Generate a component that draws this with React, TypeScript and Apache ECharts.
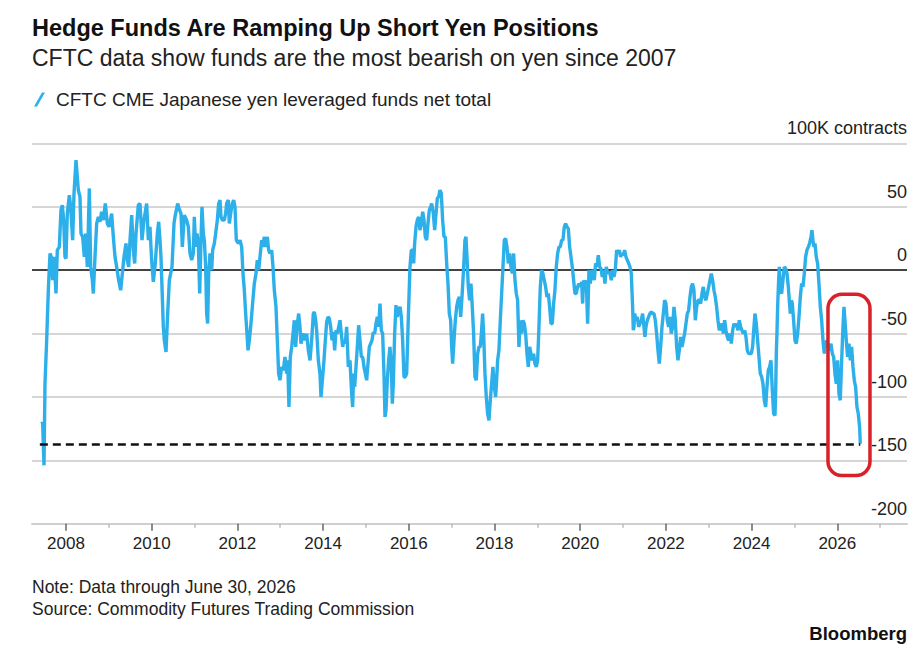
import React, { useEffect, useRef } from "react";
import * as echarts from "echarts";

// Weekly CFTC CME yen leveraged funds net total (thousand contracts), time as decimal year
const netPositions: [number, number][] = [
  [2007.417, -121.1], [2007.456, -120.5], [2007.487, -153.9], [2007.51, -89.5], [2007.549, -55.3],
  [2007.588, -15.8], [2007.627, 13.2], [2007.658, 10.5], [2007.689, -7.9], [2007.72, 10.5],
  [2007.767, -18.4], [2007.798, 15.8], [2007.845, 18.4], [2007.883, 47.4], [2007.915, 51.3],
  [2007.946, 39.5], [2007.977, 10.5], [2008.0, 9.2], [2008.031, 44.7], [2008.078, 59.2],
  [2008.109, 50], [2008.156, 23.7], [2008.187, 60.5], [2008.234, 86.8], [2008.288, 63.2],
  [2008.327, 57.9], [2008.35, 28.9], [2008.389, 26.3], [2008.428, 10.5], [2008.459, 28.9],
  [2008.498, 2.6], [2008.545, 64.5], [2008.576, 2.6], [2008.615, -7.9], [2008.638, -18.4],
  [2008.677, 10.5], [2008.716, 36.8], [2008.755, 42.1], [2008.794, 38.2], [2008.832, 46.1],
  [2008.871, 39.5], [2008.918, 52.6], [2008.965, 36.8], [2009.004, 34.2], [2009.066, 44.7],
  [2009.105, 26.3], [2009.144, 10.5], [2009.183, 2.6], [2009.229, -7.9], [2009.276, -15.8],
  [2009.315, -2.6], [2009.354, 10.5], [2009.4, 21.1], [2009.431, 7.9], [2009.463, 2.6],
  [2009.494, 23.7], [2009.533, 43.4], [2009.572, 15.8], [2009.603, 5.3], [2009.634, 28.9],
  [2009.688, 51.3], [2009.727, 52.6], [2009.774, 23.7], [2009.82, 39.5], [2009.883, 52.6],
  [2009.922, 23.7], [2009.96, 34.2], [2009.999, 7.9], [2010.038, -9.2], [2010.077, 2.6],
  [2010.132, 28.9], [2010.163, 38.2], [2010.194, 23.7], [2010.217, 10.5], [2010.272, -44.7],
  [2010.295, -55.3], [2010.334, -64.5], [2010.373, -34.2], [2010.412, -7.9], [2010.443, -2.6],
  [2010.474, 2.6], [2010.521, 36.8],
  [2010.544, 42.1], [2010.606, 52.6], [2010.637, 48.7], [2010.684, 44.7], [2010.715, 18.4],
  [2010.762, 43.4], [2010.816, 39.5], [2010.855, 34.2], [2010.894, 13.2], [2010.933, 7.9],
  [2010.972, 13.2], [2010.995, 42.1], [2011.026, 18.4], [2011.057, 28.9], [2011.089, 21.1],
  [2011.12, -18.4], [2011.151, 23.7], [2011.174, 50], [2011.205, 28.9], [2011.229, 23.7],
  [2011.26, 2.6], [2011.283, -34.2], [2011.306, -42.1], [2011.33, -2.6], [2011.361, 13.2],
  [2011.4, 0], [2011.423, 15.8], [2011.462, 21.1], [2011.493, 28.9], [2011.532, 39.5],
  [2011.563, 52.6], [2011.594, 55.3], [2011.617, 42.1], [2011.649, 39.5], [2011.695, 39.5],
  [2011.726, 44.7], [2011.75, 52.6], [2011.789, 55.3], [2011.812, 36.8], [2011.843, 44.7],
  [2011.882, 52.6], [2011.913, 55.3], [2011.944, 50], [2011.975, 23.7], [2012.022, 21.1],
  [2012.061, 23.7], [2012.1, 18.4], [2012.131, -2.6], [2012.162, -15.8], [2012.193, -34.2],
  [2012.224, -50], [2012.248, -63.2], [2012.279, -55.3], [2012.31, -44.7], [2012.349, -28.9],
  [2012.395, -10.5], [2012.434, -2.6], [2012.465, 7.9], [2012.497, 0], [2012.528, 10.5],
  [2012.567, 23.7], [2012.59, 18.4], [2012.629, 26.3], [2012.66, 18.4], [2012.699, 26.3],
  [2012.73, 15.8], [2012.761, 13.2], [2012.8, 15.8], [2012.831, 2.6], [2012.862, -15.8],
  [2012.901, -28.9], [2012.932, -55.3], [2012.963, -81.6], [2012.994, -86.8], [2013.033, -76.3],
  [2013.072, -78.9], [2013.111, -68.4], [2013.15, -81.6], [2013.173, -71.1], [2013.204, -107.9],
  [2013.235, -68.4], [2013.267, -60.5], [2013.298, -50], [2013.329, -39.5], [2013.36, -60.5],
  [2013.391, -44.7], [2013.43, -34.2], [2013.461, -44.7], [2013.484, -57.9], [2013.515, -52.6],
  [2013.547, -50], [2013.578, -55.3], [2013.617, -50], [2013.656, -63.2], [2013.695, -71.1],
  [2013.733, -55.3], [2013.772, -34.2], [2013.796, -32.9], [2013.827, -39.5], [2013.85, -47.4],
  [2013.889, -71.1],
  [2013.928, -81.6], [2013.951, -100], [2013.99, -84.2], [2014.021, -71.1], [2014.052, -55.3],
  [2014.084, -40.8], [2014.115, -36.8], [2014.146, -38.2], [2014.177, -44.7], [2014.208, -55.3],
  [2014.239, -48.7], [2014.27, -63.2], [2014.301, -47.4], [2014.332, -50], [2014.364, -44.7],
  [2014.395, -39.5], [2014.426, -50], [2014.457, -60.5], [2014.488, -55.3], [2014.519, -57.9],
  [2014.55, -44.7], [2014.589, -76.3], [2014.628, -71.1], [2014.667, -97.4], [2014.69, -107.9],
  [2014.714, -81.6], [2014.737, -92.1], [2014.768, -76.3], [2014.799, -60.5], [2014.83, -43.4],
  [2014.861, -55.3], [2014.893, -68.4], [2014.924, -68.4], [2014.955, -76.3], [2014.986, -81.6],
  [2015.017, -86.8], [2015.048, -73.7], [2015.079, -60.5], [2015.11, -57.9], [2015.141, -55.3],
  [2015.173, -48.7], [2015.204, -50], [2015.235, -42.1], [2015.266, -36.8], [2015.297, -44.7],
  [2015.328, -26.3], [2015.359, -47.4], [2015.39, -50], [2015.421, -81.6], [2015.445, -115.8],
  [2015.468, -110.5], [2015.499, -86.8], [2015.53, -71.1], [2015.561, -60.5], [2015.593, -76.3],
  [2015.616, -105.3], [2015.639, -89.5], [2015.67, -50], [2015.701, -27.6], [2015.733, -36.8],
  [2015.764, -31.6], [2015.795, -28.9], [2015.826, -36.8], [2015.857, -55.3], [2015.888, -84.2],
  [2015.919, -84.2], [2015.95, -81.6], [2015.974, -55.3], [2015.997, -28.9], [2016.028, 2.6],
  [2016.059, 15.8], [2016.09, 15.8], [2016.114, 5.3], [2016.137, 21.1], [2016.168, 34.2],
  [2016.199, 39.5], [2016.23, 42.1], [2016.261, 31.6], [2016.293, 36.8], [2016.324, 46.1],
  [2016.355, 39.5], [2016.386, 26.3], [2016.417, 23.7], [2016.448, 36.8], [2016.479, 47.4],
  [2016.511, 50], [2016.534, 52.6], [2016.573, 44.7], [2016.604, 31.6], [2016.635, 44.7],
  [2016.666, 56.6], [2016.697, 57.9], [2016.728, 63.2], [2016.759, 60.5], [2016.79, 39.5],
  [2016.822, 26.3], [2016.853, 26.3], [2016.884, 5.3], [2016.915, -10.5], [2016.946, -34.2],
  [2016.977, -39.5], [2017.001, -60.5], [2017.024, -73.7], [2017.055, -55.3], [2017.086, -39.5],
  [2017.117, -28.9], [2017.148, -23.7], [2017.18, -21.1], [2017.211, -36.8], [2017.242, -21.1],
  [2017.273, -2.6],
  [2017.311, 23.7], [2017.334, 26.3], [2017.358, 10.5], [2017.389, -13.2], [2017.42, -23.7],
  [2017.451, -10.5], [2017.482, -28.9], [2017.513, -50], [2017.544, -84.2], [2017.575, -86.8],
  [2017.607, -65.8], [2017.638, -60.5], [2017.669, -60.5], [2017.7, -47.4], [2017.723, -34.2],
  [2017.747, -50], [2017.778, -81.6], [2017.809, -100], [2017.84, -113.2], [2017.871, -118.4],
  [2017.902, -102.6], [2017.933, -89.5], [2017.964, -76.3], [2017.996, -92.1], [2018.027, -100],
  [2018.05, -86.8], [2018.073, -71.1], [2018.104, -63.2], [2018.136, -39.5], [2018.167, -18.4],
  [2018.198, 2.6], [2018.229, 23.7], [2018.26, 25], [2018.291, 18.4], [2018.322, 5.3],
  [2018.353, 13.2], [2018.385, 2.6], [2018.416, -2.6], [2018.447, 13.2], [2018.478, -7.9],
  [2018.509, -18.4], [2018.54, -23.7], [2018.571, -60.5], [2018.602, -39.5], [2018.633, -50],
  [2018.664, -39.5], [2018.696, -42.1], [2018.727, -50], [2018.758, -65.8], [2018.789, -76.3],
  [2018.82, -60.5], [2018.851, -65.8], [2018.882, -71.1], [2018.913, -65.8], [2018.945, -73.7],
  [2018.976, -76.3], [2019.007, -71.1], [2019.038, -44.7], [2019.069, -13.2], [2019.1, 0],
  [2019.131, -2.6], [2019.162, -7.9], [2019.194, -13.2], [2019.225, -21.1], [2019.256, -18.4],
  [2019.287, -28.9], [2019.318, -42.1], [2019.349, -42.1], [2019.38, -26.3], [2019.411, -15.8],
  [2019.442, 2.6], [2019.474, 13.2], [2019.505, 18.4], [2019.536, 18.4], [2019.567, 23.7],
  [2019.598, 23.7], [2019.629, 34.2], [2019.66, 36.8], [2019.691, 34.2], [2019.723, 32.9],
  [2019.754, 18.4], [2019.785, 10.5], [2019.816, 2.6], [2019.847, -7.9], [2019.878, -18.4],
  [2019.909, -18.4], [2019.94, -13.2], [2019.971, -10.5], [2020.003, -13.2], [2020.034, -9.2],
  [2020.057, -26.3], [2020.08, -7.9], [2020.111, -13.2], [2020.142, -7.9], [2020.174, -42.1],
  [2020.205, 0], [2020.236, -10.5], [2020.267, 0], [2020.298, -2.6], [2020.329, -7.9],
  [2020.36, 5.3], [2020.391, 2.6], [2020.423, 11.8], [2020.454, 2.6], [2020.485, 1.3],
  [2020.516, -5.3], [2020.547, 0], [2020.578, -10.5], [2020.609, 2.6], [2020.64, -2.6],
  [2020.672, -1.3],
  [2020.695, -2.6], [2020.726, -7.9], [2020.757, 0], [2020.788, -5.3], [2020.819, 0],
  [2020.851, 15.8], [2020.882, 13.2], [2020.913, 15.8], [2020.944, 10.5], [2020.975, 13.2],
  [2021.006, 11.8], [2021.037, 15.8], [2021.068, 10.5], [2021.1, 7.9], [2021.131, 5.3],
  [2021.162, 2.6], [2021.193, -2.6], [2021.208, -15.8], [2021.224, -28.9], [2021.24, -47.4],
  [2021.255, -44.7], [2021.271, -34.2], [2021.302, -39.5], [2021.333, -36.8], [2021.364, -44.7],
  [2021.395, -42.1], [2021.426, -39.5], [2021.457, -34.2], [2021.488, -44.7], [2021.512, -52.6],
  [2021.535, -44.7], [2021.566, -39.5], [2021.597, -36.8], [2021.628, -34.2], [2021.66, -32.9],
  [2021.691, -34.2], [2021.722, -34.2], [2021.753, -39.5], [2021.784, -50], [2021.815, -63.2],
  [2021.846, -73.7], [2021.877, -60.5], [2021.909, -44.7], [2021.94, -34.2], [2021.971, -23.7],
  [2022.002, -26.3], [2022.033, -39.5], [2022.064, -44.7], [2022.095, -36.8], [2022.126, -50],
  [2022.157, -44.7], [2022.189, -28.9], [2022.22, -39.5], [2022.251, -60.5], [2022.282, -71.1],
  [2022.313, -63.2], [2022.344, -52.6], [2022.375, -60.5], [2022.406, -55.3], [2022.437, -50],
  [2022.469, -42.1], [2022.5, -34.2], [2022.531, -31.6], [2022.562, -21.1], [2022.593, -13.2],
  [2022.624, -10.5], [2022.655, -15.8], [2022.686, -39.5], [2022.718, -28.9], [2022.749, -23.7],
  [2022.78, -23.7], [2022.811, -26.3], [2022.842, -18.4], [2022.873, -13.2], [2022.904, -21.1],
  [2022.935, -23.7], [2022.966, -18.4], [2022.998, -13.2], [2023.029, -7.9], [2023.06, -2.6],
  [2023.091, -7.9], [2023.122, -15.8], [2023.153, -21.1], [2023.184, -28.9], [2023.215, -39.5],
  [2023.247, -47.4], [2023.278, -44.7], [2023.309, -42.1], [2023.34, -50], [2023.371, -39.5],
  [2023.402, -47.4], [2023.433, -52.6], [2023.464, -55.3], [2023.495, -50], [2023.527, -57.9],
  [2023.558, -47.4], [2023.589, -42.1], [2023.62, -44.7], [2023.651, -42.1], [2023.682, -47.4],
  [2023.713, -39.5], [2023.744, -44.7], [2023.776, -47.4], [2023.807, -50], [2023.838, -47.4],
  [2023.869, -52.6], [2023.9, -63.2], [2023.931, -65.8], [2023.962, -65.8], [2023.993, -65.8],
  [2024.024, -60.5], [2024.055, -44.7],
  [2024.079, -34.2], [2024.11, -42.1], [2024.141, -55.3], [2024.172, -68.4], [2024.203, -81.6],
  [2024.235, -84.2], [2024.266, -89.5], [2024.297, -102.6], [2024.328, -107.9], [2024.359, -92.1],
  [2024.39, -78.9], [2024.421, -76.3], [2024.452, -71.1], [2024.484, -94.7], [2024.515, -113.2],
  [2024.546, -114.5], [2024.561, -97.4], [2024.577, -65.8], [2024.592, -50], [2024.608, -28.9],
  [2024.631, -7.9], [2024.647, 2.6], [2024.67, -15.8], [2024.701, -18.4], [2024.732, -7.9],
  [2024.764, 2.6], [2024.795, 1.3], [2024.826, -2.6], [2024.857, -13.2], [2024.88, -23.7],
  [2024.904, -34.2], [2024.927, -23.7], [2024.95, -26.3], [2024.981, -39.5], [2025.012, -55.3],
  [2025.043, -57.9], [2025.075, -50], [2025.106, -36.8], [2025.137, -21.1], [2025.168, -10.5],
  [2025.199, -13.2], [2025.23, -2.6], [2025.261, 10.5], [2025.292, 15.8], [2025.324, 18.4],
  [2025.355, 21.1], [2025.386, 26.3], [2025.409, 31.6], [2025.432, 23.7], [2025.456, 18.4],
  [2025.479, 21.1], [2025.51, 10.5], [2025.541, 5.3], [2025.572, -10.5], [2025.604, -28.9],
  [2025.635, -39.5], [2025.666, -55.3], [2025.697, -65.8], [2025.728, -57.9], [2025.759, -55.3],
  [2025.79, -60.5], [2025.821, -63.2], [2025.853, -57.9], [2025.884, -65.8], [2025.915, -68.4],
  [2025.946, -81.6], [2025.977, -89.5], [2026.008, -71.1], [2026.039, -97.4], [2026.07, -102.6],
  [2026.102, -71.1], [2026.133, -44.7], [2026.156, -28.9], [2026.179, -39.5], [2026.21, -55.3],
  [2026.241, -68.4], [2026.273, -57.9], [2026.304, -71.1], [2026.335, -60.5], [2026.366, -76.3],
  [2026.397, -86.8], [2026.428, -92.1], [2026.459, -107.9], [2026.49, -113.2], [2026.521, -123.7],
  [2026.537, -136.8],
];

const majorTickYears = [2008, 2010, 2012, 2014, 2016, 2018, 2020, 2022, 2024, 2026];
const minorTickYears = [2009, 2011, 2013, 2015, 2017, 2019, 2021, 2023, 2025, 2027];
const yAxisMin = -200;
const yAxisMax = 100;
const yAxisStep = 50;
const xAxisStart = 2007.207;
const xAxisEnd = 2027.627;
const lowMark = -137; // 2007 low reference level
const lowMarkStart = 2007.39;
const lowMarkEnd = 2026.537;
const highlightWindow = { from: 2025.783, to: 2026.763, top: -19, bottom: -162 };

const SERIES_NAME = "CFTC CME Japanese yen leveraged funds net total";
const FONT = "'Liberation Sans', Arial, Helvetica, sans-serif";
const BLUE = "#2db0ea";

export default function App() {
  const ref = useRef<HTMLDivElement>(null);

  useEffect(() => {
    if (!ref.current) return;
    const chart = echarts.init(ref.current, null, { renderer: "svg" });
    const gridColors = [
      "#d6d6d6", "#d6d6d6", "#d6d6d6", "#d6d6d6", "#444444", "#d6d6d6", "#d6d6d6",
    ];
    const option: any = {
      animation: false,
      backgroundColor: "#ffffff",
      textStyle: { fontFamily: FONT },
      title: [
        {
          text: "Hedge Funds Are Ramping Up Short Yen Positions",
          left: 32, top: 16, padding: 0,
          textStyle: { fontFamily: FONT, fontSize: 23.5, fontWeight: "bold", color: "#111" },
        },
        {
          text: "CFTC data show funds are the most bearish on yen since 2007",
          left: 32, top: 46, padding: 0,
          textStyle: { fontFamily: FONT, fontSize: 23, fontWeight: "normal", color: "#222" },
        },
        {
          text: "Note: Data through June 30, 2026",
          left: 32, top: 578, padding: 0,
          textStyle: { fontFamily: FONT, fontSize: 17.5, fontWeight: "normal", color: "#222" },
        },
        {
          text: "Source: Commodity Futures Trading Commission",
          left: 32, top: 600, padding: 0,
          textStyle: { fontFamily: FONT, fontSize: 17.5, fontWeight: "normal", color: "#222" },
        },
        {
          text: "Bloomberg",
          right: 17, top: 624, padding: 0,
          textStyle: { fontFamily: FONT, fontSize: 18.5, fontWeight: "bold", color: "#111" },
        },
      ],
      legend: {
        left: 34, top: 90, padding: 0,
        icon: "path://M0,14L3,14L11,0L8,0Z",
        itemWidth: 11, itemHeight: 14,
        textStyle: { fontFamily: FONT, fontSize: 19, color: "#222", padding: [0, 0, 0, 6] },
        data: [{ name: SERIES_NAME, itemStyle: { color: BLUE } }],
        selectedMode: false,
      },
      grid: { left: 32, right: 17, top: 143.4, bottom: 134.2, containLabel: false },
      xAxis: [
        {
          type: "value", min: xAxisStart, max: xAxisEnd, position: "bottom",
          axisLine: { show: true, onZero: false, lineStyle: { color: "#cfcfcf", width: 2 } },
          axisTick: { show: true, customValues: majorTickYears, length: 7, lineStyle: { color: "#666", width: 1.5 } },
          axisLabel: {
            customValues: majorTickYears, margin: 11, fontSize: 17, color: "#222", fontFamily: FONT,
            formatter: (v: number) => String(Math.round(v)),
          },
          splitLine: { show: false },
        },
        {
          type: "value", min: xAxisStart, max: xAxisEnd, position: "bottom", gridIndex: 0,
          axisLine: { show: false, onZero: false },
          axisTick: { show: true, customValues: minorTickYears, length: 4, lineStyle: { color: "#bbbbbb", width: 1.5 } },
          axisLabel: { show: false },
          splitLine: { show: false },
        },
      ],
      yAxis: {
        type: "value", min: yAxisMin, max: yAxisMax, interval: yAxisStep, position: "right",
        axisLine: { show: false }, axisTick: { show: false },
        axisLabel: {
          inside: true, margin: 0, align: "right", verticalAlign: "bottom",
          padding: [0, 0, 6, 0], fontSize: 18, color: "#222", fontFamily: FONT,
          formatter: (v: number) => (v === yAxisMax ? `${v}K contracts` : String(v)),
        },
        splitLine: { show: true, lineStyle: { color: gridColors, width: 2 } },
      },
      series: [
        {
          name: SERIES_NAME,
          type: "line",
          xAxisIndex: 0, yAxisIndex: 0,
          data: netPositions,
          showSymbol: false, symbol: "none",
          lineStyle: { color: BLUE, width: 3.4 },
          itemStyle: { color: BLUE },
          z: 3,
          markLine: {
            silent: true, symbol: ["none", "none"], label: { show: false },
            lineStyle: { color: "#111", width: 2.5, type: [8, 5] },
            data: [[{ coord: [lowMarkStart, lowMark] }, { coord: [lowMarkEnd, lowMark] }]],
          },
        },
      ],
    };
    chart.setOption(option);

    const p1 = chart.convertToPixel({ xAxisIndex: 0, yAxisIndex: 0 }, [highlightWindow.from, highlightWindow.top]) as number[];
    const p2 = chart.convertToPixel({ xAxisIndex: 0, yAxisIndex: 0 }, [highlightWindow.to, highlightWindow.bottom]) as number[];
    chart.setOption({
      graphic: [
        {
          type: "rect", z: 100, silent: true,
          shape: { x: p1[0], y: p1[1], width: p2[0] - p1[0], height: p2[1] - p1[1], r: 14 },
          style: { fill: "none", stroke: "#d7222a", lineWidth: 3.5 },
        },
      ],
    });

    return () => chart.dispose();
  }, []);

  return (
    <div
      ref={ref}
      style={{ position: "absolute", left: 0, top: 0, width: 924, height: 658, background: "#fff" }}
    />
  );
}
